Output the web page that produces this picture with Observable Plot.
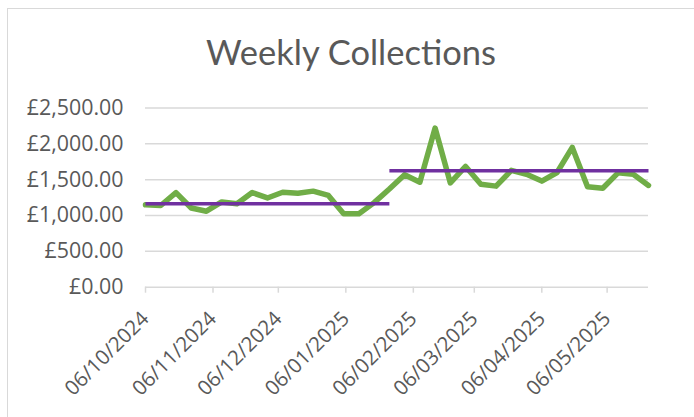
<!DOCTYPE html>
<html>
<head>
<meta charset="utf-8">
<script src="https://cdn.jsdelivr.net/npm/d3@7"></script>
<script src="https://cdn.jsdelivr.net/npm/@observablehq/plot@0.6"></script>
<style>
  html, body { margin: 0; padding: 0; background: #fff; }
  #wrap { position: relative; width: 694px; height: 417px; overflow: hidden; }
  #frame { position: absolute; left: 7px; top: 8px; width: 700px; height: 420px; border: 1.5px solid #d9d9d9; box-sizing: border-box; }
  #title { position: relative; height: 90px; box-sizing: border-box; padding-top: 34.5px; text-align: center; font-family: Lato, sans-serif; font-size: 34.5px; line-height: 34.5px; color: #595959; padding-left: 8px; }
  #chart { position: relative; }
</style>
</head>
<body>
<div id="wrap">
  <div id="frame"></div>
  <div id="title">Weekly Collections</div>
  <div id="chart"></div>
</div>
<script>
const weeks = [
  "2024-10-06","2024-10-13","2024-10-20","2024-10-27",
  "2024-11-03","2024-11-10","2024-11-17","2024-11-24",
  "2024-12-01","2024-12-08","2024-12-15","2024-12-22","2024-12-29",
  "2025-01-05","2025-01-12","2025-01-19","2025-01-26",
  "2025-02-02","2025-02-09","2025-02-16","2025-02-23",
  "2025-03-02","2025-03-09","2025-03-16","2025-03-23","2025-03-30",
  "2025-04-06","2025-04-13","2025-04-20","2025-04-27",
  "2025-05-04","2025-05-11","2025-05-18","2025-05-25"
];
const collections = [
  1150, 1140, 1320, 1105, 1060, 1190, 1165, 1320, 1245, 1325, 1310, 1340, 1280,
  1025, 1025, 1180, 1370,
  1570, 1465, 2220, 1455, 1685, 1435, 1410, 1630, 1575, 1480, 1600, 1950,
  1400, 1380, 1595, 1575, 1420
];
const avgPeriods = ["Before", "After"];
const avgStart = ["2024-10-06", "2025-01-26"];
const avgEnd = ["2025-01-26", "2025-05-25"];
const avgValues = [1165, 1625];
const xTicks = ["2024-10-06","2024-11-06","2024-12-06","2025-01-06","2025-02-06","2025-03-06","2025-04-06","2025-05-06"];
const yTicks = [0, 500, 1000, 1500, 2000, 2500];

const parse = d3.utcParse("%Y-%m-%d");
const data = weeks.map((w, i) => ({date: parse(w), value: collections[i]}));
const avgData = avgPeriods.flatMap((p, i) => [
  {period: p, date: parse(avgStart[i]), value: avgValues[i]},
  {period: p, date: parse(avgEnd[i]), value: avgValues[i]}
]);
const tickDates = xTicks.map(parse);
const fmtDate = d3.utcFormat("%d/%m/%Y");
const fmtMoney = d => "£" + d3.format(",.2f")(d);

const chart = Plot.plot({
  width: 694,
  height: 327,
  marginLeft: 145,
  marginRight: 46,
  marginTop: 17.5,
  marginBottom: 130.3,
  style: {fontFamily: "'Open Sans', sans-serif", fontSize: "21.4px", color: "#595959", background: "transparent", overflow: "visible"},
  x: {type: "utc", domain: [parse(weeks[0]), parse(weeks[weeks.length - 1])]},
  y: {domain: [0, 2500]},
  marks: [
    Plot.gridY(yTicks, {stroke: "#d9d9d9", strokeOpacity: 1, strokeWidth: 1.5}),
    Plot.axisY(yTicks, {tickSize: 0, tickPadding: 22, tickFormat: fmtMoney, fill: "#595959", fontSize: 21.4, label: null}),
    Plot.axisX(tickDates, {tickRotate: -45, tickFormat: fmtDate, tickSize: 6, tickPadding: 22, stroke: "#d9d9d9", strokeWidth: 1.5, fill: "#595959", fontSize: 20.5, label: null}),
    Plot.line(data, {x: "date", y: "value", stroke: "#70AD47", strokeWidth: 5.5, strokeLinejoin: "round", strokeLinecap: "round"}),
    Plot.line(avgData, {x: "date", y: "value", z: "period", stroke: "#7030A0", strokeWidth: 3.5, strokeLinecap: "butt"})
  ]
});
document.getElementById("chart").appendChild(chart);
</script>
</body>
</html>
